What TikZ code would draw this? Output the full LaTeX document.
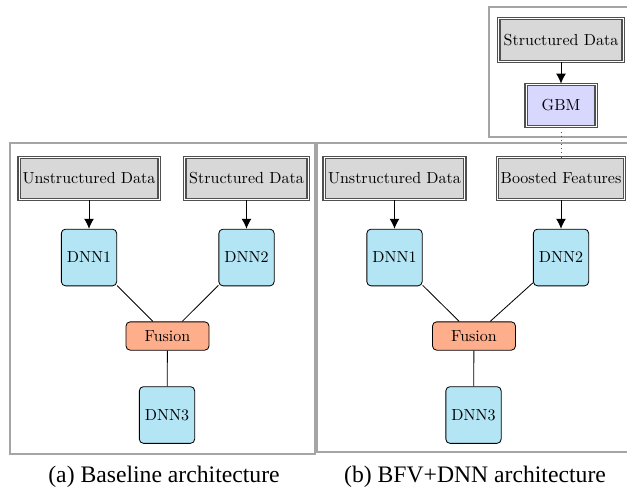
\documentclass[tikz,border=0pt]{standalone}
\usepackage{fontspec}
\newfontfamily\capfont{Liberation Serif}
\usetikzlibrary{arrows.meta}
\definecolor{dnnfill}{RGB}{179,229,245}
\definecolor{fusfill}{RGB}{255,174,140}
\definecolor{gbmfill}{RGB}{216,216,255}
\definecolor{datafill}{RGB}{216,216,216}
\definecolor{frame}{RGB}{165,165,165}
\definecolor{dborder}{RGB}{80,80,80}
\tikzset{
  every node/.style={font=\fontsize{9.6}{11}\selectfont},
  databox/.style={draw=dborder, double=white, double distance=0.55pt, line width=0.75pt, fill=datafill, minimum height=25.5pt, inner xsep=1.5pt},
  gbmbox/.style={draw=dborder, double=white, double distance=0.55pt, line width=0.75pt, fill=gbmfill, minimum width=42pt, minimum height=25.5pt},
  dnnbox/.style={draw, rounded corners=2.5pt, fill=dnnfill, minimum width=32.4pt, minimum height=34pt, line width=0.5pt},
  fusbox/.style={draw, rounded corners=2.5pt, fill=fusfill, minimum width=49.8pt, minimum height=17pt, line width=0.5pt},
  framebox/.style={draw=frame, line width=0.7pt},
  arr/.style={-{Latex[length=6pt,width=6pt]}, line width=0.6pt},
  conn/.style={line width=0.5pt},
  caption/.style={font=\capfont\fontsize{14.2}{16}\selectfont}
}
\begin{document}
\begin{tikzpicture}[x=0.6pt,y=-0.6pt]
\useasboundingbox (0,0) rectangle (627,488);
% frames
\draw[framebox] (10,143) rectangle (315,454);
\draw[framebox] (317,143) rectangle (632,452);
\draw[framebox] (489,7) rectangle (632,137);
% left panel
\node[databox, minimum width=84pt] (lud) at (89,178.5) {Unstructured Data};
\node[databox, minimum width=74pt] (lsd) at (246.5,178.5) {Structured Data};
\node[dnnbox] (l1) at (89,257.5) {DNN1};
\node[dnnbox] (l2) at (246.5,257.5) {DNN2};
\node[fusbox] (lf) at (167.5,336) {Fusion};
\node[dnnbox] (l3) at (167,415) {DNN3};
\draw[arr] (lud) -- (l1);
\draw[arr] (lsd) -- (l2);
\draw[conn] (l1) -- (lf);
\draw[conn] (l2) -- (lf);
\draw[conn] (lf) -- (l3);
% right panel
\node[databox, minimum width=84.5pt] (rud) at (394.5,178.5) {Unstructured Data};
\node[databox, minimum width=76pt] (rbf) at (561,178.5) {Boosted Features};
\node[dnnbox] (r1) at (394.5,257.5) {DNN1};
\node[dnnbox] (r2) at (561,257.5) {DNN2};
\node[fusbox] (rf) at (474,336) {Fusion};
\node[dnnbox] (r3) at (473.5,415) {DNN3};
\draw[arr] (rud) -- (r1);
\draw[arr] (rbf) -- (r2);
\draw[conn] (r1) -- (rf);
\draw[conn] (r2) -- (rf);
\draw[conn] (rf) -- (r3);
% top panel
\node[databox, minimum width=74.5pt] (tsd) at (561,40) {Structured Data};
\node[gbmbox] (gbm) at (561,105.5) {GBM};
\draw[arr] (tsd) -- (gbm);
\draw[dotted, line width=0.5pt, dborder] (gbm) -- (rbf);
% captions
\node[caption] (capa) at (164,477) {(a) Baseline architecture};
\node[caption] (capb) at (475,477) {(b) BFV+DNN architecture};
\end{tikzpicture}
\end{document}
